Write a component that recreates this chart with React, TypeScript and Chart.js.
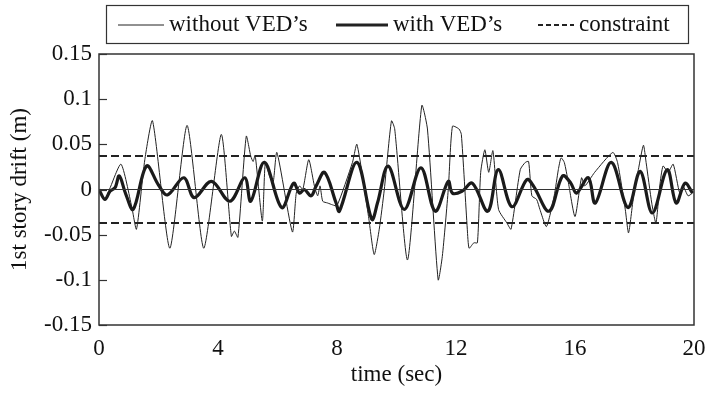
import React, { useEffect, useRef } from "react";
import { Chart, registerables } from "chart.js";

Chart.register(...registerables);

const xTicks = [0, 4, 8, 12, 16, 20];
const yTicks = [-0.15, -0.1, -0.05, 0, 0.05, 0.1, 0.15];

const tWithout = [
  0, 0.2, 0.35, 0.74, 1.1, 1.26, 1.54, 1.8, 2.38, 2.96, 3.52, 4.11, 4.45, 4.55, 4.67, 4.95,
  5.1, 5.18, 5.25, 5.49, 5.59, 5.73, 5.85, 5.98, 6.5, 6.63, 6.74, 6.85, 7.05, 7.24, 7.35, 7.43,
  7.52, 7.69, 7.85, 8.0, 8.52, 8.67, 9.06, 9.25, 9.42, 9.59, 9.83, 9.94, 10.37, 10.85, 11.04,
  11.4, 11.54, 11.74, 11.88, 12.1, 12.18, 12.38, 12.44, 12.6, 12.72, 12.83, 12.97, 13.1, 13.24,
  13.43, 13.71, 13.85, 14.16, 14.33, 14.44, 14.55, 14.71, 14.82, 15.04, 15.3, 15.44, 15.53,
  15.64, 15.77, 16.0, 16.22, 16.33, 16.66, 17.27, 17.43, 17.69, 17.8, 17.97, 18.13, 18.3,
  18.39, 18.58, 18.72, 18.85, 18.96, 19.13, 19.3, 19.52, 19.63, 19.8, 19.95,
];
const vWithout = [
  0, -0.011, 0.0, 0.028, -0.019, -0.044, 0.033, 0.076, -0.065, 0.071, -0.065, 0.061, -0.052,
  -0.046, -0.053, 0.059, 0.037, 0.031, 0.038, -0.035, 0.03, 0.015, 0.007, 0.041, -0.047,
  -0.004, 0.004, 0.0, 0.033, 0.004, -0.007, 0.004, -0.013, -0.015, -0.017, -0.018, 0.03, 0.05,
  -0.03, -0.072, -0.044, 0.0, 0.076, 0.067, -0.078, 0.093, 0.067, -0.1, -0.074, 0.0, 0.07,
  0.067, 0.061, -0.044, -0.065, -0.059, -0.059, 0.019, 0.044, 0.019, 0.043, -0.022, -0.037,
  -0.044, 0.022, 0.03, 0.031, -0.007, -0.011, -0.022, -0.041, -0.007, 0.022, 0.035, 0.03,
  0.009, -0.03, 0.013, 0.004, 0.019, 0.041, 0.03, -0.022, -0.048, -0.007, 0.022, 0.049, 0.03,
  -0.015, -0.037, 0.004, 0.026, 0.019, 0.028, -0.004, 0.004, -0.007, -0.004,
];

const tWith = [
  0, 0.2, 0.37, 0.54, 0.68, 0.9, 1.15, 1.6, 2.0, 2.3, 2.85, 3.2, 3.78, 4.4, 4.9, 5.1, 5.56,
  6.14, 6.54, 6.74, 6.9, 7.13, 7.3, 7.58, 7.97, 8.08, 8.67, 9.17, 9.36, 9.72, 10.26, 10.82,
  11.3, 11.74, 11.88, 12.2, 12.55, 13.07, 13.42, 13.88, 14.38, 14.6, 15.13, 15.58, 15.86,
  16.05, 16.45, 16.68, 17.22, 17.78, 18.19, 18.6, 19.1, 19.4, 19.7, 19.95,
];
const vWith = [
  0, -0.011, -0.002, 0.002, 0.015, -0.005, -0.022, 0.026, 0.005, -0.006, 0.013, -0.009, 0.009,
  -0.013, 0.013, -0.013, 0.03, -0.02, 0.007, -0.004, 0.0, -0.007, 0.004, 0.019, -0.015,
  -0.024, 0.03, -0.033, -0.015, 0.026, -0.022, 0.024, -0.024, 0.009, -0.004, -0.002, 0.007,
  -0.024, 0.022, -0.019, 0.011, 0.004, -0.024, 0.015, 0.007, -0.004, 0.013, -0.015, 0.03,
  -0.02, 0.02, -0.026, 0.022, -0.015, 0.007, -0.004,
];

const constraintLevel = 0.037;
const timeRange = [0, 20];

const seriesNames = ["without VED\u2019s", "with VED\u2019s", "constraint"];

const FONT = "'Liberation Serif', 'Times New Roman', serif";
const FS = 23;
const INK = "#222";

const toPoints = (ts: number[], vs: number[]) => ts.map((t, i) => ({ x: t, y: vs[i] }));

const framePlugin = {
  id: "frame",
  afterDraw(chart: any) {
    const { ctx, chartArea } = chart;
    const ys = chart.scales.y;
    ctx.save();
    ctx.strokeStyle = "#333";
    ctx.lineWidth = 1.5;
    ctx.strokeRect(chartArea.left, chartArea.top, chartArea.right - chartArea.left, chartArea.bottom - chartArea.top);
    ctx.lineWidth = 1.2;
    yTicks.forEach((v) => {
      const py = Math.round(ys.getPixelForValue(v)) + 0.5;
      ctx.beginPath();
      ctx.moveTo(chartArea.left, py);
      ctx.lineTo(chartArea.left + 8, py);
      ctx.stroke();
    });
    // legend box
    const bx = 106, by = 5, bw = 582, bh = 38;
    ctx.lineWidth = 1.2;
    ctx.strokeStyle = "#333";
    ctx.strokeRect(bx + 0.5, by + 0.5, bw, bh);
    const cy = by + bh / 2 + 1;
    ctx.font = `${FS}px ${FONT}`;
    ctx.fillStyle = "#111";
    ctx.textBaseline = "middle";
    const items = [
      { x0: 118, x1: 164, tx: 169, lw: 1, dash: [] as number[] },
      { x0: 336, x1: 388, tx: 393, lw: 3, dash: [] as number[] },
      { x0: 538, x1: 574, tx: 579, lw: 2, dash: [5, 3] },
    ];
    items.forEach((it, i) => {
      ctx.beginPath();
      ctx.setLineDash(it.dash);
      ctx.lineWidth = it.lw;
      ctx.strokeStyle = INK;
      ctx.moveTo(it.x0, cy);
      ctx.lineTo(it.x1, cy);
      ctx.stroke();
      ctx.setLineDash([]);
      ctx.fillText(seriesNames[i], it.tx, cy);
    });
    ctx.restore();
  },
};

export default function App() {
  const ref = useRef<HTMLCanvasElement | null>(null);
  useEffect(() => {
    document.body.style.margin = "0";
    const canvas = ref.current!;
    const chart = new Chart(canvas, {
      type: "line",
      data: {
        datasets: [
          {
            label: "zero",
            data: toPoints(timeRange, [0, 0]),
            borderColor: "#333",
            borderWidth: 1,
            pointRadius: 0,
            tension: 0,
          },
          {
            label: seriesNames[0],
            data: toPoints(tWithout, vWithout),
            borderColor: INK,
            borderWidth: 1,
            pointRadius: 0,
            tension: 0.2,
          },
          {
            label: seriesNames[1],
            data: toPoints(tWith, vWith),
            borderColor: "#1a1a1a",
            borderWidth: 3.2,
            pointRadius: 0,
            tension: 0.35,
          },
          {
            label: seriesNames[2],
            data: toPoints(timeRange, [constraintLevel, constraintLevel]),
            borderColor: INK,
            borderWidth: 2,
            borderDash: [8, 4],
            pointRadius: 0,
          },
          {
            label: seriesNames[2] + " lower",
            data: toPoints(timeRange, [-constraintLevel, -constraintLevel]),
            borderColor: INK,
            borderWidth: 2,
            borderDash: [8, 4],
            pointRadius: 0,
          },
        ],
      },
      options: {
        animation: false,
        responsive: false,
        layout: { padding: { top: 54, right: 12, left: 0, bottom: 0 } },
        plugins: { legend: { display: false }, tooltip: { enabled: false } },
        scales: {
          x: {
            type: "linear",
            min: 0,
            max: 20,
            afterBuildTicks: (s: any) => {
              s.ticks = xTicks.map((v) => ({ value: v }));
            },
            afterFit: (s: any) => {
              s.height = 69;
              s.paddingLeft = 0;
              s.paddingRight = 0;
            },
            grid: { display: false, drawTicks: false },
            border: { display: false },
            ticks: { color: "#111", font: { family: FONT, size: FS }, padding: 10, maxRotation: 0 },
            title: {
              display: true,
              text: "time (sec)",
              color: "#111",
              font: { family: FONT, size: FS },
              padding: { top: 0, bottom: 5 },
            },
          },
          y: {
            min: -0.15,
            max: 0.15,
            afterBuildTicks: (s: any) => {
              s.ticks = yTicks.map((v) => ({ value: v }));
            },
            afterFit: (s: any) => {
              s.width = 99;
              s.paddingTop = 0;
              s.paddingBottom = 0;
            },
            grid: { display: false, drawTicks: false },
            border: { display: false },
            ticks: {
              color: "#111",
              font: { family: FONT, size: FS },
              padding: 7,
              callback: (v: any) => String(Math.round(Number(v) * 100) / 100),
            },
            title: {
              display: true,
              text: "1st story drift (m)",
              color: "#111",
              font: { family: FONT, size: FS },
              padding: { top: 6, bottom: 0 },
            },
          },
        },
      },
      plugins: [framePlugin],
    });
    return () => chart.destroy();
  }, []);
  return <canvas ref={ref} width={706} height={394} style={{ display: "block" }} />;
}
